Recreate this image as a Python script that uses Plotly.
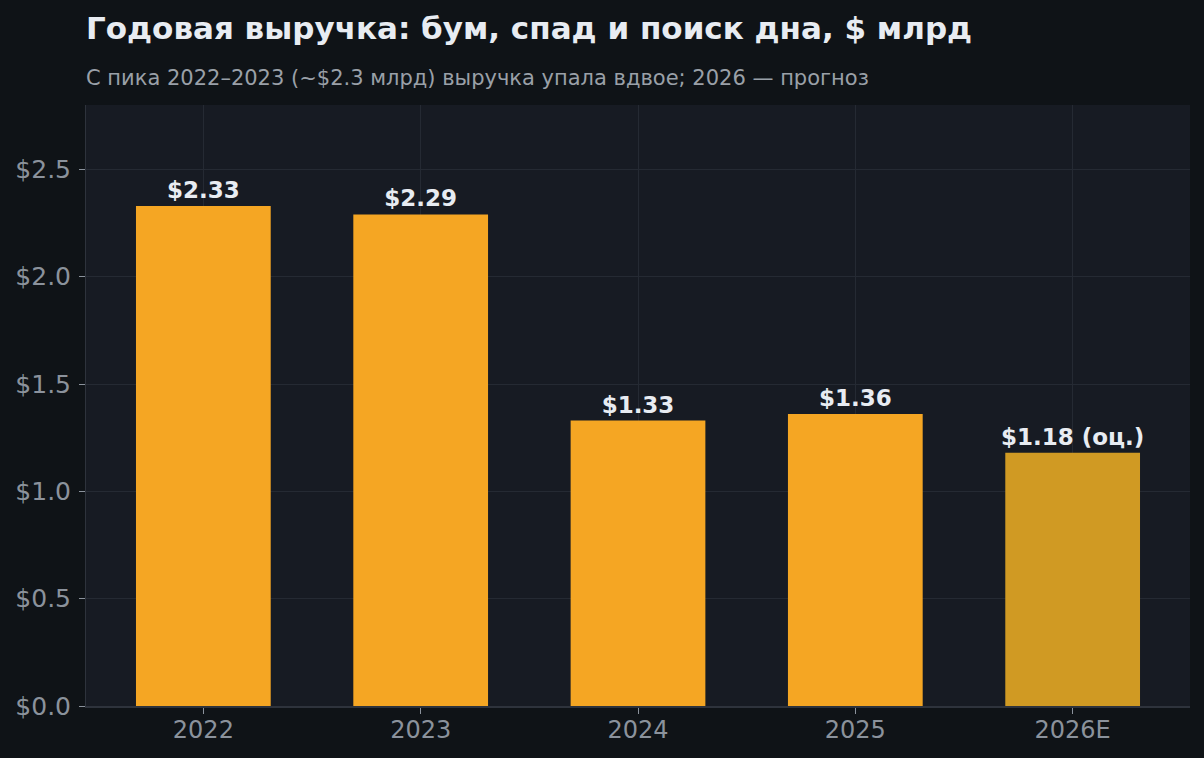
import plotly.graph_objects as go

# Annual revenue, $ bn (2026 is an estimate)
years = ['2022', '2023', '2024', '2025', '2026E']
revenue = [2.33, 2.29, 1.33, 1.36, 1.18]
labels = ['$2.33', '$2.29', '$1.33', '$1.36', '$1.18 (оц.)']
bar_colors = ['#F5A623', '#F5A623', '#F5A623', '#F5A623', '#D09A23']

y_ticks = [0, 0.5, 1.0, 1.5, 2.0, 2.5]
y_tick_text = ['$0.0', '$0.5', '$1.0', '$1.5', '$2.0', '$2.5']

fig = go.Figure(
    go.Bar(
        x=years,
        y=revenue,
        width=0.62,
        marker_color=bar_colors,
        marker_line_width=0,
        text=labels,
        textposition='outside',
        constraintext='none',
        textfont=dict(size=23, color='#E8ECF2', family='DejaVu Sans', weight='bold'),
        cliponaxis=False,
    )
)

fig.update_layout(
    width=1204,
    height=758,
    paper_bgcolor='#0F1317',
    plot_bgcolor='#171B23',
    font=dict(family='DejaVu Sans', color='#8B929C'),
    margin=dict(l=86, r=14, t=105, b=52),
    showlegend=False,
    title=dict(
        text='Годовая выручка: бум, спад и поиск дна, $ млрд',
        x=86 / 1204,
        xanchor='left',
        y=1 - 28 / 758,
        yanchor='middle',
        font=dict(size=31, color='#E8ECF2', family='DejaVu Sans', weight='bold'),
    ),
    annotations=[
        dict(
            text='С пика 2022–2023 (~$2.3 млрд) выручка упала вдвое; 2026 — прогноз',
            xref='paper',
            yref='paper',
            x=-0.002,
            y=1 + 27 / 601,
            xanchor='left',
            yanchor='middle',
            showarrow=False,
            font=dict(size=21, color='#9AA0A8'),
        )
    ],
)

fig.update_xaxes(
    range=[-0.54, 4.54],
    showgrid=True,
    gridcolor='#252A33',
    showline=True,
    linecolor='#2E333C',
    linewidth=2,
    ticks='outside',
    ticklen=6,
    tickcolor='#8B929C',
    ticklabelstandoff=-5,
    tickfont=dict(size=24, color='#8B929C'),
)
fig.update_yaxes(
    range=[0, 2.8],
    tickvals=y_ticks,
    ticktext=y_tick_text,
    showgrid=True,
    gridcolor='#252A33',
    zeroline=False,
    showline=True,
    linecolor='#2E333C',
    linewidth=1,
    ticks='outside',
    ticklen=6,
    tickcolor='#8B929C',
    ticklabelstandoff=3,
    tickfont=dict(size=25, color='#8B929C'),
)

# drop the default page margin so the figure sits at the window corner
fig.write_html(
    'out.html',
    config={'displayModeBar': False},
    post_script="document.body.style.margin='0';",
)
